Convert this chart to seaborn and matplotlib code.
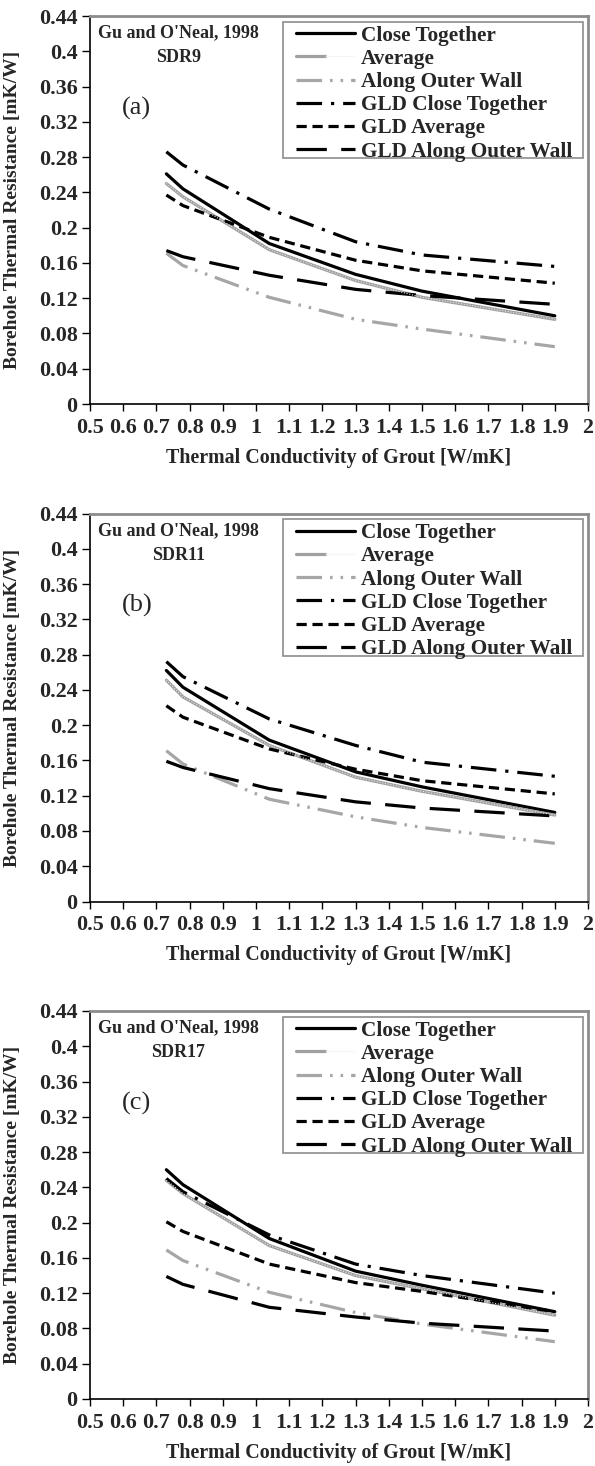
import matplotlib
matplotlib.use("Agg")
import matplotlib.pyplot as plt
from matplotlib.patches import Rectangle
from matplotlib.legend_handler import HandlerTuple
import seaborn as sns
import pandas as pd

sns.set_theme(style="white")
plt.rcParams['font.family'] = ['Liberation Serif', 'DejaVu Serif']

# ---------------- data ----------------
conductivity = [0.73, 0.78, 1.04, 1.3, 1.5, 1.9]
series_names = ["Close Together", "Average", "Along Outer Wall",
                "GLD Close Together", "GLD Average", "GLD Along Outer Wall"]

sdr9_close = [0.261, 0.244, 0.182, 0.147, 0.128, 0.100]
sdr9_avg = [0.250, 0.235, 0.175, 0.140, 0.121, 0.096]
sdr9_outer = [0.171, 0.157, 0.121, 0.096, 0.085, 0.065]
sdr9_gld_close = [0.286, 0.271, 0.221, 0.184, 0.169, 0.156]
sdr9_gld_avg = [0.237, 0.225, 0.189, 0.163, 0.151, 0.137]
sdr9_gld_outer = [0.174, 0.167, 0.146, 0.130, 0.123, 0.113]

sdr11_close = [0.262, 0.243, 0.183, 0.147, 0.130, 0.101]
sdr11_avg = [0.251, 0.232, 0.177, 0.141, 0.125, 0.098]
sdr11_outer = [0.171, 0.156, 0.116, 0.096, 0.084, 0.066]
sdr11_gld_close = [0.272, 0.255, 0.207, 0.177, 0.158, 0.142]
sdr11_gld_avg = [0.222, 0.209, 0.173, 0.150, 0.137, 0.122]
sdr11_gld_outer = [0.159, 0.152, 0.128, 0.113, 0.106, 0.097]

sdr17_close = [0.260, 0.243, 0.182, 0.145, 0.129, 0.099]
sdr17_avg = [0.248, 0.233, 0.174, 0.140, 0.125, 0.095]
sdr17_outer = [0.169, 0.157, 0.121, 0.098, 0.085, 0.065]
sdr17_gld_close = [0.250, 0.235, 0.186, 0.153, 0.140, 0.120]
sdr17_gld_avg = [0.201, 0.190, 0.153, 0.132, 0.122, 0.099]
sdr17_gld_outer = [0.139, 0.130, 0.104, 0.093, 0.086, 0.077]

panels = [
    ("SDR9", "(a)", [sdr9_close, sdr9_avg, sdr9_outer, sdr9_gld_close, sdr9_gld_avg, sdr9_gld_outer]),
    ("SDR11", "(b)", [sdr11_close, sdr11_avg, sdr11_outer, sdr11_gld_close, sdr11_gld_avg, sdr11_gld_outer]),
    ("SDR17", "(c)", [sdr17_close, sdr17_avg, sdr17_outer, sdr17_gld_close, sdr17_gld_avg, sdr17_gld_outer]),
]

x_ticks = [0.5, 0.6, 0.7, 0.8, 0.9, 1.0, 1.1, 1.2, 1.3, 1.4, 1.5, 1.6, 1.7, 1.8, 1.9, 2.0]
x_ticklabels = ["0.5", "0.6", "0.7", "0.8", "0.9", "1", "1.1", "1.2", "1.3", "1.4",
                "1.5", "1.6", "1.7", "1.8", "1.9", "2"]
y_ticks = [0, 0.04, 0.08, 0.12, 0.16, 0.2, 0.24, 0.28, 0.32, 0.36, 0.4, 0.44]
y_ticklabels = ["0", "0.04", "0.08", "0.12", "0.16", "0.2", "0.24", "0.28",
                "0.32", "0.36", "0.4", "0.44"]

# ---------------- styles ----------------
palette = {
    "Close Together": "#000000",
    "Average": "#a0a0a0",
    "Along Outer Wall": "#a6a6a6",
    "GLD Close Together": "#000000",
    "GLD Average": "#000000",
    "GLD Along Outer Wall": "#000000",
}
dashes = {
    "Close Together": "",
    "Average": "",
    "Along Outer Wall": (8, 2.5, 0.8, 2.5, 0.8, 2.5),
    "GLD Close Together": (8, 2.8, 1, 2.8),
    "GLD Average": (3.2, 1.8),
    "GLD Along Outer Wall": (9.5, 4.5),
}

W, H = 595, 1466
fig = plt.figure(figsize=(W / 100, H / 100), dpi=100)

ax_left, ax_w, ax_h = 90, 498, 388
period = 497.5
top0 = 16

tick_fs = 15.8
leg_fs = 15.3
for i, (sdr, tag, vals) in enumerate(panels):
    top = top0 + period * i
    ax = fig.add_axes([ax_left / W, 1 - (top + ax_h) / H, ax_w / W, ax_h / H])
    rows = []
    for name, v in zip(series_names, vals):
        for xv, yv in zip(conductivity, v):
            rows.append({"k": xv, "R": yv, "series": name})
    df = pd.DataFrame(rows)
    sns.lineplot(data=df, x="k", y="R", hue="series", style="series",
                 hue_order=series_names, style_order=series_names,
                 palette=palette, dashes=dashes, linewidth=2.3,
                 legend=False, ax=ax, sort=False)
    lines = ax.get_lines()[:len(series_names)]
    # light dotted core of the "Average" line
    avg = df[df["series"] == "Average"]
    sns.lineplot(data=avg, x="k", y="R", color="#e6e6e6", linewidth=0.8,
                 linestyle=(0, (1, 1.5)), legend=False, ax=ax, sort=False)
    avg_core = ax.get_lines()[-1]
    avg_core.set_zorder(lines[1].get_zorder() + 0.1)

    ax.set_xlim(0.5, 2.0)
    ax.set_ylim(0, 0.44)
    ax.set_xticks(x_ticks)
    ax.set_xticklabels(x_ticklabels, fontsize=tick_fs, fontweight="bold")
    ax.set_yticks(y_ticks)
    ax.set_yticklabels(y_ticklabels, fontsize=tick_fs, fontweight="bold")
    ax.tick_params(axis="y", direction="out", length=6, width=1, color="black",
                   left=True, pad=3)
    ax.tick_params(axis="x", direction="out", length=5, width=1, color="black",
                   bottom=True, pad=5)
    for side in ["left", "bottom"]:
        ax.spines[side].set_color("black")
        ax.spines[side].set_linewidth(1.2)
    for side in ["top", "right"]:
        ax.spines[side].set_color("#8c8c8c")
        ax.spines[side].set_linewidth(2)
    ax.grid(False)

    ax.set_xlabel("Thermal Conductivity of Grout [W/mK]", fontsize=14.4, fontweight="bold")
    ax.set_ylabel("Borehole Thermal Resistance [mK/W]", fontsize=14, fontweight="bold")
    ax.xaxis.set_label_coords(0.5, -0.113)
    ax.yaxis.set_label_coords(-0.138, 0.5)

    ax.text(0.177, 0.956, "Gu and O'Neal, 1998", transform=ax.transAxes,
            ha="center", va="center", fontsize=13, fontweight="bold")
    ax.text(0.177, 0.892, sdr, transform=ax.transAxes,
            ha="center", va="center", fontsize=13, fontweight="bold")
    ax.text(0.094, 0.763, tag, transform=ax.transAxes,
            ha="center", va="center", fontsize=19)

    # legend frame drawn explicitly
    ax.add_patch(Rectangle((0.388, 0.634), 0.602, 0.351, transform=ax.transAxes,
                           facecolor="white", edgecolor="#8c8c8c", linewidth=1.2,
                           zorder=4))
    handles = [lines[0], (lines[1], avg_core)] + list(lines[2:])
    leg = ax.legend(handles, series_names, loc="upper left",
                    bbox_to_anchor=(0.414, 0.975),
                    handler_map={tuple: HandlerTuple(ndivide=None, pad=0)},
                    prop={"family": "Liberation Serif", "weight": "bold", "size": leg_fs},
                    frameon=False, handlelength=2.75, handletextpad=0.3,
                    labelspacing=0.15, borderpad=0, borderaxespad=0)
    leg.set_zorder(5)

fig.savefig("out.png", dpi=100)
